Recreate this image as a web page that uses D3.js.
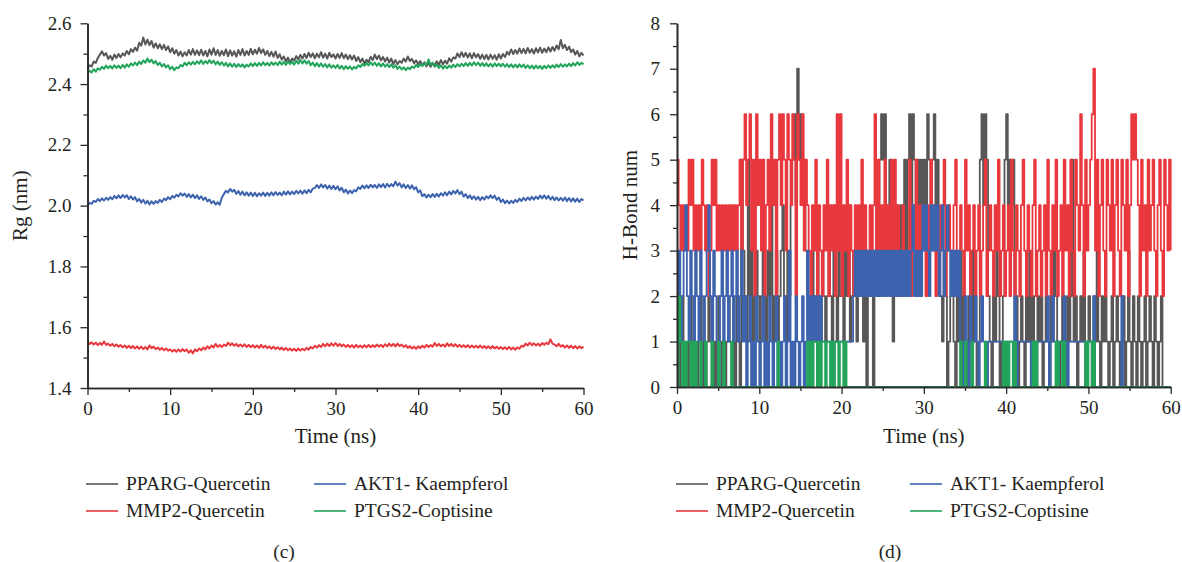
<!DOCTYPE html>
<html>
<head>
<meta charset="utf-8">
<script src="https://cdn.jsdelivr.net/npm/d3@7"></script>
<style>
body { margin: 0; background: #fff; }
svg text { font-family: "Liberation Serif", "Times New Roman", serif; fill: #231f20; }
</style>
</head>
<body>
<svg id="chart" width="1182" height="562"></svg>
<script>
// Series names and colours (legend order)
var seriesNames = ["PPARG-Quercetin", "MMP2-Quercetin", "AKT1- Kaempferol", "PTGS2-Coptisine"];
var seriesColors = ["#595657", "#e8383d", "#3d63ae", "#22a55b"];

// tick labels
var timeTicks = [0, 10, 20, 30, 40, 50, 60];
var timeMinor = [5, 15, 25, 35, 45, 55];
var rgTicks = [1.4, 1.6, 1.8, 2.0, 2.2, 2.4, 2.6];
var rgMinor = [1.5, 1.7, 1.9, 2.1, 2.3, 2.5];
var hbTicks = [0, 1, 2, 3, 4, 5, 6, 7, 8];
var hbMinor = [0.5, 1.5, 2.5, 3.5, 4.5, 5.5, 6.5, 7.5];

// (c) Rg, one value every 0.25 ns, 0..60 ns (8 values = 2 ns per row)
var rgStep = 0.25;
var ppargRg = [2.450,2.462,2.458,2.474,2.470,2.486,2.497,2.508,
2.494,2.502,2.483,2.493,2.480,2.497,2.486,2.499,
2.488,2.501,2.494,2.509,2.498,2.515,2.506,2.520,
2.510,2.536,2.526,2.553,2.530,2.546,2.528,2.542,
2.520,2.534,2.518,2.531,2.515,2.529,2.512,2.524,
2.505,2.518,2.500,2.512,2.494,2.507,2.491,2.505,
2.494,2.512,2.497,2.515,2.496,2.511,2.495,2.513,
2.494,2.509,2.491,2.514,2.497,2.518,2.496,2.512,
2.493,2.509,2.495,2.514,2.492,2.511,2.494,2.508,
2.490,2.512,2.496,2.515,2.494,2.509,2.496,2.516,
2.498,2.513,2.500,2.519,2.502,2.514,2.496,2.509,
2.492,2.506,2.490,2.507,2.486,2.498,2.480,2.491,
2.475,2.487,2.470,2.484,2.478,2.492,2.481,2.496,
2.484,2.499,2.486,2.503,2.489,2.501,2.485,2.500,
2.488,2.505,2.487,2.500,2.484,2.503,2.489,2.498,
2.484,2.499,2.486,2.502,2.485,2.497,2.482,2.495,
2.481,2.494,2.476,2.489,2.472,2.484,2.468,2.480,
2.472,2.490,2.479,2.497,2.482,2.494,2.478,2.489,
2.474,2.487,2.471,2.484,2.466,2.479,2.465,2.476,
2.470,2.484,2.474,2.491,2.476,2.483,2.468,2.478,
2.465,2.476,2.460,2.472,2.458,2.470,2.457,2.468,
2.461,2.475,2.463,2.479,2.465,2.477,2.467,2.485,
2.474,2.488,2.484,2.501,2.489,2.505,2.490,2.503,
2.487,2.501,2.485,2.502,2.488,2.499,2.483,2.497,
2.482,2.496,2.481,2.497,2.483,2.495,2.480,2.498,
2.484,2.499,2.489,2.506,2.497,2.514,2.499,2.512,
2.500,2.517,2.502,2.516,2.501,2.519,2.503,2.515,
2.500,2.518,2.504,2.520,2.503,2.517,2.505,2.521,
2.507,2.522,2.510,2.527,2.515,2.545,2.518,2.529,
2.512,2.523,2.505,2.514,2.497,2.509,2.491,2.503,
2.494];
var mmp2Rg = [1.552,1.545,1.550,1.543,1.549,1.541,1.548,1.542,
1.553,1.542,1.546,1.539,1.545,1.537,1.543,1.536,
1.541,1.534,1.540,1.532,1.539,1.531,1.538,1.530,
1.537,1.529,1.536,1.528,1.535,1.527,1.540,1.531,
1.536,1.528,1.533,1.526,1.532,1.524,1.530,1.523,
1.527,1.520,1.526,1.519,1.527,1.520,1.528,1.521,
1.527,1.516,1.524,1.514,1.527,1.521,1.530,1.524,
1.533,1.527,1.537,1.530,1.540,1.533,1.545,1.535,
1.542,1.535,1.543,1.538,1.549,1.541,1.547,1.539,
1.545,1.537,1.543,1.536,1.544,1.535,1.542,1.534,
1.541,1.533,1.540,1.532,1.542,1.533,1.539,1.531,
1.537,1.529,1.536,1.528,1.534,1.527,1.533,1.525,
1.532,1.524,1.530,1.523,1.529,1.522,1.530,1.523,
1.529,1.524,1.532,1.526,1.535,1.530,1.539,1.533,
1.541,1.535,1.545,1.537,1.546,1.538,1.547,1.539,
1.548,1.538,1.545,1.537,1.543,1.535,1.542,1.534,
1.541,1.533,1.542,1.534,1.540,1.533,1.541,1.534,
1.542,1.534,1.541,1.535,1.543,1.536,1.542,1.535,
1.544,1.537,1.546,1.538,1.545,1.537,1.546,1.538,
1.543,1.535,1.541,1.532,1.538,1.530,1.536,1.529,
1.537,1.531,1.539,1.533,1.542,1.535,1.541,1.536,
1.548,1.538,1.545,1.537,1.543,1.536,1.547,1.538,
1.545,1.537,1.544,1.536,1.542,1.535,1.541,1.534,
1.541,1.533,1.540,1.533,1.539,1.532,1.540,1.532,
1.538,1.531,1.537,1.530,1.538,1.530,1.536,1.529,
1.535,1.528,1.534,1.527,1.535,1.527,1.533,1.526,
1.534,1.529,1.539,1.536,1.546,1.540,1.549,1.541,
1.547,1.540,1.546,1.539,1.548,1.542,1.549,1.544,
1.560,1.546,1.543,1.537,1.545,1.536,1.541,1.533,
1.540,1.532,1.539,1.531,1.538,1.530,1.537,1.531,
1.536];
var akt1Rg = [2.000,2.009,2.006,2.016,2.012,2.022,2.015,2.024,
2.017,2.026,2.019,2.028,2.021,2.032,2.024,2.034,
2.025,2.035,2.027,2.034,2.022,2.031,2.020,2.028,
2.014,2.022,2.010,2.019,2.007,2.016,2.004,2.014,
2.006,2.015,2.009,2.019,2.012,2.023,2.018,2.028,
2.021,2.032,2.026,2.036,2.030,2.041,2.033,2.040,
2.029,2.038,2.027,2.036,2.025,2.034,2.022,2.031,
2.019,2.027,2.014,2.020,2.008,2.015,2.004,2.011,
2.003,2.026,2.038,2.049,2.043,2.055,2.046,2.052,
2.039,2.048,2.036,2.046,2.034,2.044,2.033,2.043,
2.032,2.042,2.031,2.041,2.033,2.043,2.032,2.042,
2.033,2.044,2.034,2.045,2.035,2.043,2.034,2.046,
2.036,2.047,2.037,2.046,2.038,2.049,2.040,2.050,
2.039,2.050,2.041,2.052,2.044,2.056,2.058,2.068,
2.058,2.070,2.060,2.068,2.056,2.066,2.055,2.065,
2.054,2.064,2.050,2.059,2.044,2.053,2.040,2.050,
2.041,2.051,2.047,2.060,2.055,2.066,2.057,2.067,
2.058,2.069,2.060,2.068,2.058,2.070,2.061,2.071,
2.060,2.072,2.062,2.071,2.064,2.079,2.066,2.074,
2.060,2.070,2.058,2.068,2.056,2.067,2.054,2.061,
2.044,2.050,2.031,2.038,2.027,2.036,2.028,2.038,
2.029,2.039,2.030,2.041,2.033,2.044,2.034,2.046,
2.037,2.049,2.040,2.051,2.038,2.046,2.030,2.038,
2.025,2.034,2.022,2.031,2.020,2.029,2.018,2.028,
2.020,2.031,2.024,2.034,2.025,2.033,2.019,2.027,
2.012,2.020,2.008,2.017,2.007,2.016,2.009,2.019,
2.012,2.023,2.015,2.026,2.017,2.027,2.019,2.029,
2.020,2.030,2.022,2.033,2.024,2.034,2.023,2.032,
2.020,2.029,2.018,2.027,2.017,2.026,2.016,2.027,
2.015,2.025,2.014,2.024,2.013,2.023,2.012,2.022,
2.017];
var ptgs2Rg = [2.436,2.444,2.438,2.449,2.441,2.452,2.447,2.457,
2.450,2.461,2.452,2.460,2.451,2.462,2.453,2.461,
2.452,2.463,2.454,2.465,2.457,2.468,2.461,2.471,
2.462,2.474,2.466,2.478,2.470,2.484,2.472,2.480,
2.468,2.476,2.463,2.470,2.458,2.466,2.455,2.462,
2.449,2.457,2.446,2.455,2.452,2.463,2.458,2.470,
2.462,2.472,2.464,2.473,2.465,2.475,2.467,2.478,
2.466,2.476,2.468,2.479,2.469,2.477,2.465,2.474,
2.463,2.472,2.461,2.470,2.458,2.468,2.457,2.467,
2.456,2.466,2.457,2.465,2.455,2.464,2.458,2.468,
2.459,2.469,2.460,2.470,2.461,2.472,2.462,2.470,
2.461,2.472,2.463,2.471,2.462,2.474,2.464,2.473,
2.463,2.475,2.466,2.474,2.464,2.477,2.467,2.479,
2.468,2.478,2.467,2.476,2.462,2.471,2.459,2.469,
2.458,2.468,2.457,2.466,2.455,2.465,2.454,2.462,
2.453,2.463,2.451,2.460,2.449,2.459,2.450,2.458,
2.448,2.457,2.451,2.462,2.456,2.466,2.460,2.470,
2.461,2.472,2.462,2.471,2.460,2.469,2.458,2.468,
2.457,2.466,2.456,2.465,2.454,2.462,2.450,2.458,
2.448,2.455,2.446,2.454,2.449,2.458,2.453,2.463,
2.456,2.466,2.459,2.468,2.462,2.481,2.463,2.470,
2.457,2.465,2.453,2.462,2.451,2.460,2.452,2.461,
2.454,2.464,2.456,2.466,2.458,2.467,2.459,2.469,
2.460,2.470,2.461,2.472,2.462,2.471,2.460,2.469,
2.459,2.468,2.458,2.467,2.457,2.468,2.459,2.467,
2.458,2.467,2.457,2.466,2.456,2.465,2.455,2.464,
2.455,2.465,2.456,2.464,2.453,2.462,2.452,2.461,
2.451,2.461,2.452,2.460,2.450,2.460,2.452,2.462,
2.453,2.462,2.454,2.464,2.456,2.466,2.457,2.465,
2.458,2.467,2.459,2.469,2.461,2.472,2.463,2.470,
2.465];

// (d) H-bond count, one value every 0.2 ns, 0..60 ns
var hbStep = 0.2;
var ppargHB = [1,0,1,2,1,0,1,0,2,1, 0,1,0,1,2,0,1,0,1,2, 1,0,1,0,1,2,1,0,1,0, 1,2,1,0,1,0,2,1,0,5,
3,2,1,5,2,3,1,2,3,2, 1,2,3,2,1,3,2,4,1,2, 3,1,2,3,4,2,1,3,2,4, 5,6,4,7,5,6,4,5,3,2,
1,2,3,1,2,3,2,1,3,2, 1,2,3,2,1,4,2,1,3,2, 2,1,3,2,4,1,2,3,2,1, 3,2,4,1,3,0,2,3,2,0,
3,4,2,5,6,5,6,4,3,5, 2,1,3,4,2,3,4,2,5,3, 5,6,4,6,5,4,5,4,5,4, 5,4,6,5,4,5,6,4,5,3,
2,1,3,2,0,1,2,3,1,0, 2,1,3,0,2,1,0,2,1,3, 1,2,0,1,5,6,4,6,5,2, 1,0,2,1,3,2,0,1,2,5,
6,4,5,4,5,1,2,0,1,2, 1,0,2,1,3,0,2,1,0,2, 1,2,0,1,2,1,0,2,1,3, 2,1,0,1,2,1,0,2,1,2,
5,1,2,0,1,2,1,3,0,1, 2,1,0,2,1,3,1,0,2,1, 2,1,0,1,2,0,1,2,1,0, 1,2,0,1,3,1,0,2,1,0,
2,1,0,1,2,0,1,2,1,0, 2,1,0,1,2,0,0,0,0,0, 0];
var mmp2HB = [5,4,3,4,3,4,3,5,4,5, 3,4,3,4,3,5,4,3,4,2, 3,5,4,5,3,4,3,4,3,4, 3,4,3,4,3,4,3,4,5,3,
5,6,4,5,6,3,5,2,6,4, 5,3,5,2,4,5,3,6,4,5, 2,5,6,4,6,5,3,6,5,4, 6,5,2,6,5,4,6,3,5,4,
3,2,4,3,5,2,4,3,2,4, 3,5,2,4,3,4,2,6,3,6, 2,4,3,5,2,4,3,2,4,3, 4,3,5,2,4,3,2,4,3,4,
6,3,5,2,4,3,5,3,4,2, 5,3,5,2,4,3,2,4,3,2, 3,5,2,4,3,5,2,4,3,4, 3,2,4,3,5,3,4,2,3,4,
3,4,5,2,3,4,3,2,4,5, 3,2,4,3,2,5,3,4,2,3, 4,2,3,4,2,3,4,5,2,3, 4,3,2,4,3,5,2,3,4,2,
3,4,2,5,3,2,4,3,2,4, 5,3,2,4,3,2,4,5,2,3, 4,2,3,4,2,5,3,2,4,3, 5,2,3,4,2,5,3,4,2,5,
3,2,5,4,3,6,4,2,5,3, 4,5,6,7,3,5,2,4,5,3, 2,5,4,3,5,2,4,5,3,2, 5,4,3,5,2,4,6,5,6,5,
4,2,5,3,4,2,5,3,4,5, 3,2,4,5,3,2,5,4,3,5, 3];
var akt1HB = [2,3,1,2,3,4,2,1,3,2, 1,3,2,1,3,2,1,2,3,4, 2,1,3,2,1,0,2,3,1,2, 3,1,2,3,1,2,3,1,2,3,
1,2,0,1,2,0,1,0,2,1, 0,1,2,0,1,0,2,1,0,1, 2,0,1,0,1,2,0,1,3,0, 1,0,2,1,0,1,2,0,1,3,
1,2,1,2,1,2,1,2,1,1, 1,1,1,1,1,1,1,1,1,1, 1,1,1,1,1,1,1,2,3,2, 3,2,3,2,3,2,3,2,3,2,
3,2,3,2,3,2,3,2,3,2, 3,2,3,2,3,2,3,2,3,2, 3,2,3,4,2,3,2,3,2,4, 3,4,3,2,4,3,4,3,4,2,
3,4,2,3,4,3,2,3,2,3, 2,3,1,0,1,2,1,0,2,1, 1,2,1,0,1,2,1,1,0,1, 1,1,1,1,1,1,1,1,1,1,
1,1,1,1,1,2,0,1,1,1, 1,1,1,1,1,0,1,1,1,1, 1,1,1,1,1,2,0,1,2,1, 1,0,1,1,1,2,1,0,1,1,
1,1,1,1,1,1,1,1,1,1, 1,1,1,2,0,0,0,0,0,0, 0,0,0,0,0,0,0,0,0,0, 2,0,0,0,0,0,0,0,0,0,
0,0,0,0,0,0,0,0,0,0, 0,0,0,0,0,0,0,0,0,0, 0];
var ptgs2HB = [0,2,1,0,1,0,1,1,0,1, 0,1,0,0,1,0,0,1,0,0, 0,1,0,0,0,1,0,0,1,0, 0,0,0,1,0,0,0,0,0,0,
0,0,0,0,0,0,0,0,0,0, 0,0,0,0,0,0,0,0,0,0, 0,1,0,0,0,0,0,0,0,0, 0,0,0,0,0,0,0,0,0,1,
0,1,0,1,1,0,1,0,1,1, 0,1,1,0,1,0,1,1,0,1, 1,0,1,0,0,0,0,0,0,0, 0,0,0,0,0,0,0,0,0,0,
0,0,0,0,0,0,0,0,0,0, 0,0,0,0,0,0,0,0,0,0, 0,0,0,0,0,0,0,0,0,0, 0,0,0,0,0,0,0,0,0,0,
0,0,0,0,0,0,0,0,0,0, 0,0,1,0,0,1,0,0,0,1, 0,0,0,0,0,0,0,1,0,0, 0,0,0,0,0,0,0,0,1,0,
1,0,1,1,0,1,0,0,0,0, 0,0,0,0,0,0,1,0,1,0, 0,0,0,0,0,0,0,0,0,0, 1,0,1,1,0,1,0,0,0,0,
0,0,0,0,0,0,0,0,1,0, 1,1,0,1,0,0,0,0,0,0, 0,0,0,0,0,0,0,0,0,0, 0,0,0,0,0,0,0,0,0,0,
0,0,0,0,0,0,0,0,0,0, 0,0,0,0,0,0,0,0,0,0, 0];

var svg = d3.select("#chart");

function drawPanel(p) {
	var x = d3.scaleLinear().domain([0, 60]).range([p.left, p.right]);
	var y = d3.scaleLinear().domain([p.yTicks[0], p.yTicks[p.yTicks.length - 1]]).range([p.bottom, p.top]);
	var g = svg.append("g");

	// traces (drawn in legend order, later ones on top)
	p.series.forEach(function(values, k) {
		var line = d3.line()
			.curve(p.curve)
			.x(function(d, i) { return x(i * p.step); })
			.y(function(d) { return y(d); });
		g.append("path")
			.datum(values)
			.attr("fill", "none")
			.attr("stroke", seriesColors[k])
			.attr("stroke-width", p.lineWidth)
			.attr("stroke-linejoin", "round")
			.attr("d", line);
	});

	// minor ticks
	g.append("g")
		.attr("transform", "translate(0," + p.bottom + ")")
		.call(d3.axisBottom(x).tickValues(timeMinor).tickSize(4).tickSizeOuter(0).tickFormat(""));
	g.append("g")
		.attr("transform", "translate(" + p.left + ",0)")
		.call(d3.axisLeft(y).tickValues(p.yMinor).tickSize(4).tickSizeOuter(0).tickFormat(""));

	// major ticks with labels
	g.append("g")
		.attr("transform", "translate(0," + p.bottom + ")")
		.call(d3.axisBottom(x).tickValues(timeTicks).tickSize(7).tickSizeOuter(0).tickPadding(7).tickFormat(d3.format("d")));
	g.append("g")
		.attr("transform", "translate(" + p.left + ",0)")
		.call(d3.axisLeft(y).tickValues(p.yTicks).tickSize(7).tickSizeOuter(0).tickPadding(p.yPad).tickFormat(p.yFormat));

	g.selectAll(".domain").attr("stroke", "#2b2b2b").attr("stroke-width", 1.6);
	g.selectAll(".tick line").attr("stroke", "#2b2b2b").attr("stroke-width", 1.3);
	g.selectAll(".tick text").attr("fill", "#231f20").style("font-size", "19px");

	// axis titles
	g.append("text")
		.attr("x", (p.left + p.right) / 2)
		.attr("y", 443)
		.attr("text-anchor", "middle")
		.style("font-size", "21px")
		.text("Time (ns)");
	g.append("text")
		.attr("transform", "translate(" + p.yTitleX + "," + ((p.top + p.bottom) / 2) + ") rotate(-90)")
		.attr("text-anchor", "middle")
		.style("font-size", "21px")
		.text(p.yTitle);

	// legend, two columns
	var leg = g.append("g");
	seriesNames.forEach(function(name, k) {
		var col = Math.floor(k / 2), row = k % 2;
		var lx = p.legendX[col], ly = 484 + row * 27;
		leg.append("line")
			.attr("x1", lx).attr("x2", lx + 32)
			.attr("y1", ly).attr("y2", ly)
			.attr("stroke", seriesColors[k])
			.attr("stroke-width", 1.6);
		leg.append("text")
			.attr("x", lx + 40)
			.attr("y", ly + 6)
			.style("font-size", "19.5px")
			.text(name);
	});

	g.append("text")
		.attr("x", p.captionX)
		.attr("y", 558)
		.attr("text-anchor", "middle")
		.style("font-size", "19.5px")
		.text(p.caption);
}

drawPanel({
	left: 87.5, right: 583.5, top: 23.3, bottom: 388,
	yTicks: rgTicks, yMinor: rgMinor, yFormat: d3.format(".1f"), yPad: 9,
	yTitle: "Rg (nm)", yTitleX: 27,
	series: [ppargRg, mmp2Rg, akt1Rg, ptgs2Rg], step: rgStep, lineWidth: 2,
	curve: d3.curveLinear,
	legendX: [86, 314], caption: "(c)", captionX: 284
});

drawPanel({
	left: 677, right: 1170.7, top: 23.3, bottom: 387,
	yTicks: hbTicks, yMinor: hbMinor, yFormat: d3.format("d"), yPad: 10,
	yTitle: "H-Bond num", yTitleX: 637,
	series: [ppargHB, mmp2HB, akt1HB, ptgs2HB], step: hbStep, lineWidth: 1.8,
	curve: d3.curveStepAfter,
	legendX: [676, 910], caption: "(d)", captionX: 890
});
</script>
</body>
</html>
